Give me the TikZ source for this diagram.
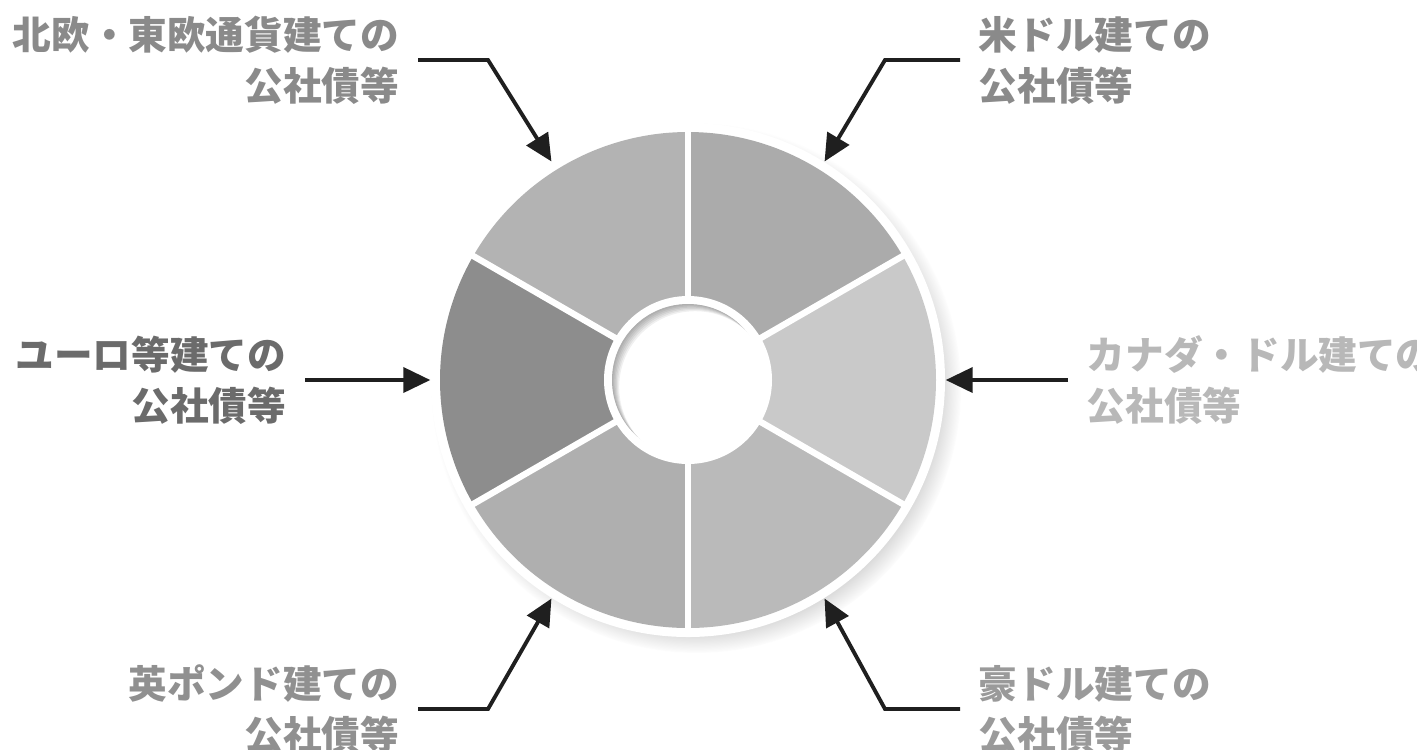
\documentclass[tikz,border=0pt]{standalone}
\usepackage{fontspec}
\newfontfamily\jpfont{Noto Sans CJK JP}
\usetikzlibrary{arrows.meta,shadows}
\definecolor{segTR}{HTML}{ABABAB}
\definecolor{segR}{HTML}{C9C9C9}
\definecolor{segBR}{HTML}{BABABA}
\definecolor{segBL}{HTML}{AFAFAF}
\definecolor{segL}{HTML}{8D8D8D}
\definecolor{segTL}{HTML}{B3B3B3}
\definecolor{txtTL}{HTML}{8A8A8A}
\definecolor{txtTR}{HTML}{8A8A8A}
\definecolor{txtL}{HTML}{6B6B6B}
\definecolor{txtR}{HTML}{B8B8B8}
\definecolor{txtBL}{HTML}{909090}
\definecolor{txtBR}{HTML}{9A9A9A}
\tikzset{
  jplabel/.style={font=\jpfont\bfseries\fontsize{11pt}{14.5pt}\selectfont, inner sep=0.18cm},
  pointer/.style={line width=1.1pt, color=black!88, -{Triangle[length=0.27cm,width=0.25cm]}},
}

\begin{document}
\begin{tikzpicture}
		%%%%% START %%%%%
		\useasboundingbox (0,0) rectangle (14.17,7.49);
		\coordinate (c) at (6.88,3.69);
		
		% white rim with its shadow
		\node[circle, fill=white, minimum size=5.14cm, inner sep=0pt,
		  circular drop shadow={shadow xshift=0.08cm, shadow yshift=-0.08cm, shadow scale=1.03, opacity=0.55}] (rim) at (c) {};
		
		\foreach \a/\col in {30/segTR, -30/segR, -90/segBR, -150/segBL, 150/segL, 90/segTL}
		  \fill[\col] (c) -- ++(\a:2.48) arc (\a:\a+60:2.48) -- cycle;
		
		\foreach \a in {30,90,...,330}
		  \draw[white, line width=1.8pt] (c) -- ++(\a:2.52);
		
		\fill[white] (c) circle (0.84);
		
		% shading inside the hole
		\begin{scope}
		  \clip (c) circle (0.76);
		  \foreach \k in {1,...,6}
		    \fill[black, opacity=0.06, even odd rule] (c) circle (1.2) ([shift={(0.012*\k,-0.012*\k)}]c) circle (0.76);
		\end{scope}
		
		\node[jplabel, anchor=east, align=right, text=txtTL] (tl) at (4.18,6.89) {北欧・東欧通貨建ての\\公社債等};
		\node[jplabel, anchor=west, align=left, text=txtTR] (tr) at (9.60,6.89) {米ドル建ての\\公社債等};
		\node[jplabel, anchor=east, align=right, text=txtL] (eu) at (3.05,3.69) {ユーロ等建ての\\公社債等};
		\node[jplabel, anchor=west, align=left, text=txtR] (ca) at (10.68,3.69) {カナダ・ドル建ての\\公社債等};
		\node[jplabel, anchor=east, align=right, text=txtBL] (bl) at (4.18,0.40) {英ポンド建ての\\公社債等};
		\node[jplabel, anchor=west, align=left, text=txtBR] (br) at (9.60,0.40) {豪ドル建ての\\公社債等};
		
		\draw[pointer] (tl.east) -- ++(0.70,0) -- (rim.122);
		\draw[pointer] (tr.west) -- ++(-0.75,0) -- (rim.58);
		\draw[pointer] (eu.east) -- (rim.180);
		\draw[pointer] (ca.west) -- (rim.0);
		\draw[pointer] (bl.east) -- ++(0.70,0) -- (rim.238);
		\draw[pointer] (br.west) -- ++(-0.75,0) -- (rim.302);
		
		%%%%% END %%%%%
\end{tikzpicture}
\end{document}
